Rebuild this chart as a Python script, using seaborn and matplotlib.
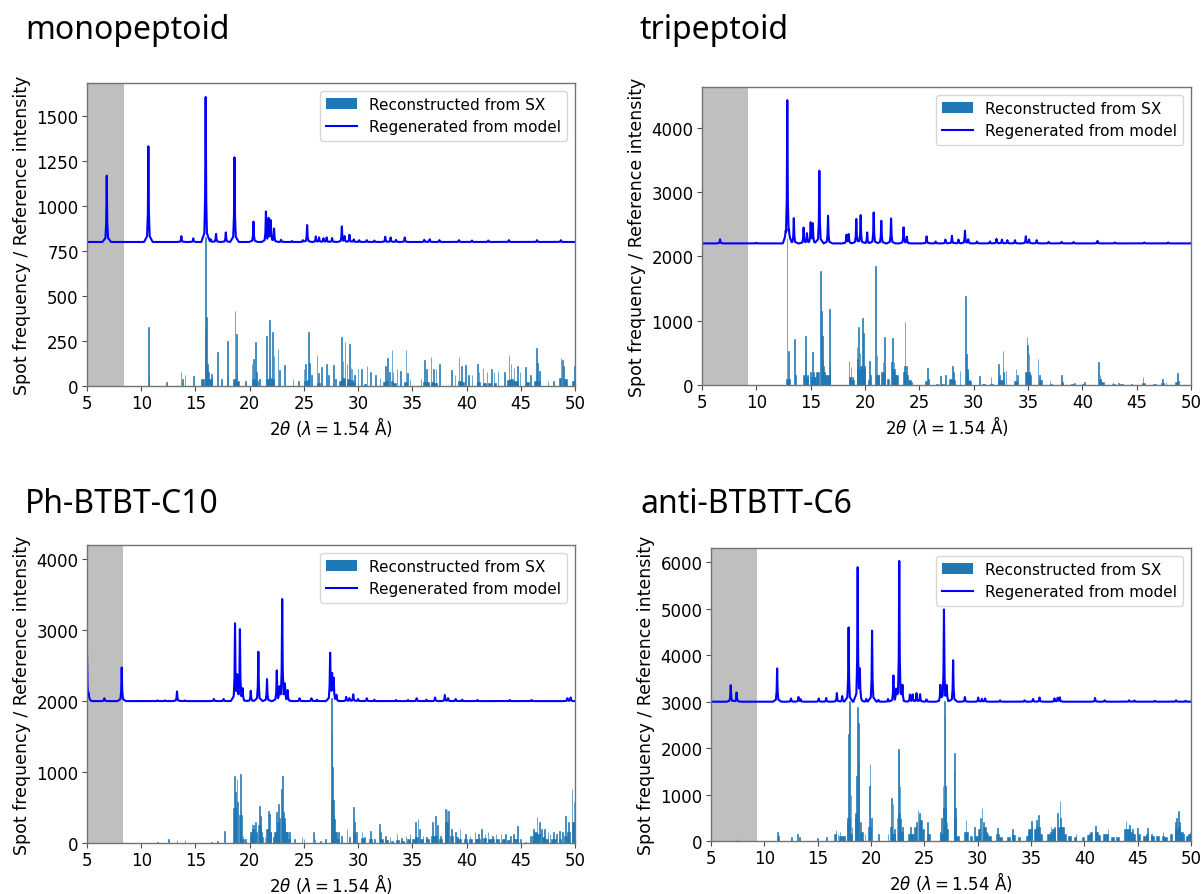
import numpy as np
import matplotlib
matplotlib.use("Agg")
import matplotlib.pyplot as plt
import seaborn as sns
from matplotlib.patches import Patch
from matplotlib.lines import Line2D

# ---------------- data ----------------
TITLES = ["monopeptoid", "tripeptoid", "Ph-BTBT-C10", "anti-BTBTT-C6"]
BASELINES = [800, 2200, 2000, 3000]
EXCLUDED_UPTO = [8.4, 9.2, 8.3, 9.3]
YMAX = [1683, 4630, 4200, 6310]
YTICKS = [[0, 250, 500, 750, 1000, 1250, 1500],
          [0, 1000, 2000, 3000, 4000],
          [0, 1000, 2000, 3000, 4000],
          [0, 1000, 2000, 3000, 4000, 5000, 6000]]
XTICKS = [5, 10, 15, 20, 25, 30, 35, 40, 45, 50]

# model pattern peaks: (2theta, intensity at peak top)
MONO_LINE = [(6.82, 1168), (10.66, 1331), (13.7, 832), (14.8, 820), (15.94, 1605), (16.4, 815),
             (16.9, 845), (17.8, 853), (18.6, 1270), (20.35, 913), (21.5, 965), (21.75, 924),
             (21.95, 915), (22.25, 872), (22.9, 812), (23.9, 805), (24.9, 810), (25.3, 894),
             (26.1, 830), (26.4, 825), (26.8, 820), (27.1, 825), (27.6, 822), (28.5, 885),
             (28.75, 830), (29.2, 840), (29.6, 815), (30.1, 810), (30.8, 810), (31.5, 808),
             (32.5, 829), (33.0, 825), (33.5, 812), (34.3, 825), (36.1, 812), (36.6, 815),
             (37.5, 810), (39.3, 810), (40.5, 808), (42.0, 808), (43.9, 810), (46.5, 810), (48.7, 810)]
TRI_LINE = [(6.66, 2265), (10.0, 2210), (12.7, 2280), (12.85, 4415), (13.0, 2300), (13.45, 2593),
            (14.35, 2443), (14.66, 2350), (15.0, 2515), (15.2, 2500), (15.8, 3329), (16.6, 2630),
            (18.3, 2330), (18.5, 2340), (19.2, 2580), (19.6, 2640), (20.2, 2370), (20.8, 2680),
            (21.5, 2551), (22.4, 2587), (23.55, 2447), (23.85, 2300), (25.67, 2309), (26.5, 2230),
            (27.4, 2260), (28.0, 2318), (28.6, 2260), (29.2, 2396), (29.5, 2260), (30.3, 2230),
            (31.5, 2230), (32.1, 2270), (32.6, 2260), (33.1, 2250), (33.8, 2250), (34.8, 2309),
            (35.1, 2260), (35.8, 2250), (36.9, 2225), (38.1, 2225), (39.2, 2220), (41.4, 2240),
            (43.0, 2215), (45.7, 2215), (47.9, 2215)]
PH_LINE = [(5.0, 2650), (5.15, 2080), (6.6, 2040), (8.2, 2474), (11.5, 2010), (12.2, 2010),
           (13.3, 2136), (14.0, 2010), (16.7, 2030), (17.6, 2030), (18.65, 3084), (18.85, 2300),
           (19.1, 3000), (19.35, 2150), (20.1, 2145), (20.8, 2695), (21.6, 2310), (22.5, 2428),
           (22.75, 2150), (23.0, 3427), (23.25, 2200), (23.5, 2150), (24.6, 2040), (25.7, 2040),
           (26.2, 2020), (27.42, 2662), (27.6, 2350), (27.75, 2300), (28.0, 2080), (28.9, 2060),
           (29.2, 2040), (29.55, 2095), (30.0, 2030), (30.8, 2040), (31.5, 2020), (33.5, 2015),
           (34.6, 2015), (35.4, 2040), (36.3, 2020), (37.1, 2050), (38.0, 2085), (38.3, 2040),
           (39.0, 2030), (39.6, 2020), (41.0, 2015), (44.0, 2015), (46.0, 2015), (49.3, 2040),
           (49.6, 2050)]
ANTI_LINE = [(6.85, 3356), (7.4, 3198), (11.2, 3716), (12.5, 3070), (13.2, 3100), (13.4, 3050),
             (15.1, 3070), (15.8, 3080), (16.8, 3185), (17.3, 3120), (17.9, 4600), (18.75, 5871),
             (18.95, 3594), (19.55, 3060), (20.1, 4530), (20.7, 3040), (21.6, 3060), (22.1, 3560),
             (22.35, 3200), (22.65, 6020), (22.95, 3300), (23.65, 3150), (23.9, 3150), (24.27, 3180),
             (24.6, 3160), (25.2, 3050), (26.5, 3340), (26.84, 4973), (27.1, 3300), (27.7, 3893),
             (28.8, 3100), (30.05, 3090), (30.4, 3060), (30.7, 3070), (32.1, 3030), (34.4, 3030),
             (35.2, 3060), (35.8, 3090), (37.2, 3070), (37.5, 3080), (37.7, 3090), (41.0, 3080),
             (41.9, 3030), (44.2, 3030), (44.7, 3025), (46.6, 3020), (48.6, 3030), (49.5, 3020)]

# spot frequency, sharp bins: (2theta, count)
MONO_SPOTS = [(10.66, 326), (10.74, 60), (12.35, 20), (13.68, 75), (13.78, 40), (14.05, 60), (14.8, 55),
              (15.87, 316), (15.95, 830), (16.03, 381), (16.12, 120), (16.5, 65), (17.03, 187), (17.4, 40),
              (17.9, 252), (18.0, 60), (18.66, 418), (18.75, 289), (18.85, 80), (19.6, 30), (20.2, 122),
              (20.35, 150), (20.5, 243), (20.6, 80), (20.9, 40), (21.55, 275), (21.8, 367), (21.9, 150),
              (22.1, 298), (22.25, 168), (22.6, 205), (22.75, 90), (23.2, 117), (24.0, 39), (24.5, 25),
              (25.0, 94), (25.15, 122), (25.4, 302), (25.5, 130), (25.75, 60), (26.2, 174), (26.35, 70),
              (26.6, 107), (27.1, 122), (27.3, 60), (27.7, 119), (27.9, 40), (28.5, 270), (28.6, 140),
              (28.8, 243), (28.95, 120), (29.2, 233), (29.3, 100), (29.45, 94), (29.7, 60), (30.0, 94),
              (30.3, 94), (30.8, 113), (31.1, 75), (31.6, 60), (32.0, 45), (32.5, 113), (32.7, 155),
              (32.85, 80), (33.1, 202), (33.25, 80), (33.6, 94), (33.9, 85), (34.4, 202), (34.55, 70),
              (34.8, 40), (35.8, 40), (36.1, 144), (36.3, 94), (36.7, 163), (36.95, 94), (37.2, 94),
              (37.5, 122), (38.6, 89), (38.9, 60), (39.3, 163), (39.5, 113), (39.9, 117), (40.2, 60),
              (40.5, 60), (41.0, 122), (41.15, 75), (41.5, 100), (41.85, 75), (42.3, 94), (42.55, 75),
              (42.9, 85), (43.5, 75), (43.9, 174), (44.1, 120), (44.4, 100), (44.7, 113), (44.9, 75),
              (45.4, 104), (45.9, 60), (46.4, 209), (46.55, 130), (46.75, 85), (47.5, 30), (48.0, 30),
              (48.7, 154), (48.8, 145), (48.95, 110), (49.95, 113)]
TRI_SPOTS = [(12.85, 2280), (12.93, 533), (13.05, 100), (13.5, 714), (13.6, 150), (14.48, 766), (14.56, 400),
             (14.7, 150), (15.0, 200), (15.18, 507), (15.27, 200), (15.9, 1775), (15.98, 1154), (16.06, 766),
             (16.14, 400), (16.25, 200), (16.7, 1180), (16.8, 300), (18.5, 378), (18.7, 275), (18.85, 120),
             (19.23, 585), (19.33, 400), (19.45, 895), (19.55, 500), (19.76, 1040), (19.85, 802), (19.95, 300),
             (20.4, 378), (20.5, 150), (20.98, 1853), (21.08, 466), (21.2, 150), (21.65, 350), (21.75, 740),
             (21.85, 300), (22.45, 350), (22.55, 725), (22.65, 350), (22.8, 150), (23.6, 300), (23.7, 983),
             (23.8, 300), (23.95, 150), (24.3, 50), (25.74, 259), (25.84, 100), (26.9, 145), (27.4, 160),
             (28.04, 290), (28.15, 200), (28.74, 223), (29.26, 1377), (29.34, 481), (29.45, 250), (29.6, 80),
             (30.5, 135), (31.6, 130), (32.27, 326), (32.37, 150), (32.67, 533), (32.77, 200), (33.0, 223),
             (33.9, 248), (34.0, 150), (34.88, 740), (34.96, 621), (35.06, 480), (35.16, 200), (35.95, 404),
             (36.05, 150), (37.0, 67), (38.1, 155), (38.2, 60), (39.3, 30), (40.2, 40), (41.5, 352),
             (41.6, 150), (41.7, 80), (42.85, 50), (43.3, 30), (44.5, 20), (45.6, 130), (47.4, 93),
             (47.7, 50), (48.74, 181), (48.84, 60)]
PH_SPOTS = [(8.3, 15), (11.5, 15), (12.5, 56), (13.3, 40), (14.0, 40), (16.5, 20), (17.0, 25), (17.68, 174),
            (18.6, 948), (18.68, 713), (18.8, 900), (18.9, 573), (19.1, 972), (19.2, 450), (19.35, 100),
            (19.6, 60), (20.0, 100), (20.2, 267), (20.3, 250), (20.5, 291), (20.6, 150), (20.9, 526),
            (21.0, 385), (21.1, 150), (21.4, 80), (21.7, 455), (21.83, 408), (21.95, 150), (22.2, 80),
            (22.4, 150), (22.5, 432), (22.66, 549), (22.75, 350), (22.9, 760), (23.0, 948), (23.1, 432),
            (23.2, 250), (23.4, 150), (23.7, 150), (24.1, 50), (24.8, 80), (25.0, 60), (25.9, 150),
            (26.0, 60), (26.5, 30), (27.0, 60), (27.5, 2050), (27.58, 1559), (27.66, 1066), (27.75, 400),
            (27.85, 338), (28.0, 150), (28.2, 150), (28.5, 100), (28.97, 197), (29.2, 80), (29.58, 502),
            (29.7, 300), (29.85, 150), (30.35, 160), (30.6, 80), (31.1, 174), (31.5, 60), (31.95, 267),
            (32.1, 150), (32.5, 100), (32.9, 80), (33.6, 130), (34.0, 70), (34.4, 100), (34.8, 120),
            (35.28, 291), (35.5, 338), (35.7, 200), (36.0, 100), (36.3, 80), (36.8, 291), (37.1, 385),
            (37.3, 250), (37.6, 100), (38.05, 479), (38.2, 470), (38.35, 455), (38.6, 200), (39.0, 160),
            (39.4, 200), (39.9, 130), (40.3, 100), (40.8, 150), (41.1, 120), (41.4, 200), (41.7, 120),
            (42.0, 150), (42.4, 100), (42.7, 130), (43.2, 120), (43.6, 130), (44.0, 100), (44.3, 120),
            (44.7, 244), (45.0, 60), (45.4, 20), (45.9, 100), (46.2, 200), (46.5, 361), (46.7, 300),
            (46.9, 200), (47.2, 200), (47.5, 150), (47.7, 120), (48.0, 150), (48.3, 120), (48.6, 170),
            (48.8, 150), (49.1, 375), (49.4, 300), (49.7, 760), (49.9, 573)]
ANTI_SPOTS = [(7.4, 50), (11.2, 200), (11.3, 100), (12.5, 80), (13.15, 144), (13.3, 80), (15.0, 60), (15.8, 80),
              (16.75, 237), (16.9, 150), (17.1, 200), (17.5, 100), (17.75, 400), (17.85, 2300), (17.93, 2838),
              (18.01, 3017), (18.1, 1000), (18.2, 300), (18.55, 500), (18.65, 1400), (18.73, 2895),
              (18.81, 2550), (18.9, 1652), (19.0, 400), (19.4, 150), (19.85, 1185), (19.93, 1652),
              (20.02, 500), (20.7, 150), (21.6, 150), (21.97, 934), (22.05, 800), (22.2, 250), (22.45, 500),
              (22.55, 1975), (22.63, 1868), (22.71, 1185), (22.8, 467), (22.95, 300), (23.7, 300),
              (23.8, 150), (24.3, 400), (24.4, 668), (24.5, 600), (24.65, 300), (25.3, 400), (25.4, 150),
              (26.5, 200), (26.65, 500), (26.75, 1185), (26.84, 3017), (26.92, 2694), (27.0, 1185),
              (27.1, 400), (27.75, 1500), (27.84, 1904), (27.92, 700), (28.93, 453), (29.05, 200),
              (29.7, 300), (30.3, 500), (30.4, 718), (30.5, 400), (30.8, 200), (31.84, 280), (33.3, 250),
              (34.7, 200), (35.0, 431), (35.1, 350), (35.5, 450), (35.66, 553), (35.8, 300), (36.9, 300),
              (37.2, 300), (37.5, 600), (37.7, 862), (37.8, 500), (38.0, 300), (39.25, 150), (40.5, 150),
              (41.0, 330), (41.1, 200), (42.2, 250), (43.9, 431), (44.2, 350), (44.5, 250), (45.0, 280),
              (45.97, 280), (46.3, 150), (47.4, 200), (48.5, 400), (48.65, 500), (48.8, 647), (48.95, 400),
              (49.3, 150), (49.9, 200)]

# spot frequency, low dense background under the clusters: (2theta, count)
MONO_BODY = [(15.7, 40), (16.0, 80), (16.3, 40), (18.6, 40), (18.9, 25), (20.3, 40), (20.6, 25), (21.6, 40),
             (21.9, 45), (22.2, 40), (25.1, 30), (25.4, 35), (26.3, 15), (28.4, 30), (28.7, 45), (29.0, 40),
             (29.3, 35), (29.6, 20), (30.5, 12), (32.4, 20), (32.7, 25), (33.0, 25), (33.3, 15), (34.3, 20),
             (36.0, 20), (36.4, 20), (36.8, 20), (37.2, 15), (39.3, 25), (39.7, 20), (41.0, 20), (41.5, 15),
             (42.0, 15), (42.5, 15), (43.8, 35), (44.1, 40), (44.4, 30), (44.7, 25), (45.5, 20), (46.3, 30),
             (46.6, 25), (48.7, 45), (49.0, 40), (49.9, 30)]
TRI_BODY = [(12.9, 100), (14.4, 150), (14.7, 120), (15.0, 130), (15.3, 120), (15.7, 200), (16.0, 300),
            (16.3, 150), (16.7, 150), (18.5, 120), (18.8, 80), (19.3, 250), (19.6, 300), (19.9, 250),
            (20.4, 80), (21.0, 150), (21.7, 200), (22.0, 100), (22.5, 250), (22.8, 150), (23.7, 200),
            (24.0, 80), (25.7, 60), (26.5, 20), (27.0, 20), (27.9, 100), (28.2, 70), (29.3, 200), (29.6, 60),
            (30.9, 20), (31.5, 20), (32.3, 80), (32.7, 80), (33.9, 60), (34.9, 200), (35.2, 150), (36.0, 80),
            (37.0, 20), (38.1, 30), (39.0, 15), (40.0, 15), (41.5, 100), (41.8, 40), (42.8, 20), (43.6, 15),
            (45.6, 30), (46.5, 15), (47.4, 30), (48.7, 50)]
PH_BODY = [(18.7, 500), (19.0, 400), (19.3, 60), (20.1, 150), (20.4, 200), (20.8, 250), (21.1, 80), (21.6, 200),
           (21.9, 150), (22.4, 150), (22.7, 300), (23.0, 350), (23.3, 150), (23.6, 60), (27.5, 600),
           (27.8, 150), (28.2, 50), (29.6, 150), (30.3, 70), (31.0, 50), (32.0, 60), (32.5, 40), (33.0, 30),
           (33.5, 40), (34.0, 30), (34.5, 50), (35.0, 60), (35.4, 80), (35.8, 60), (36.3, 60), (36.8, 100),
           (37.2, 100), (37.6, 60), (38.1, 300), (38.5, 100), (39.0, 80), (39.4, 60), (39.8, 50), (40.3, 50),
           (40.8, 60), (41.2, 60), (41.6, 70), (42.0, 60), (42.4, 50), (42.8, 50), (43.3, 50), (43.8, 40),
           (44.3, 50), (44.7, 60), (46.0, 100), (46.4, 150), (46.7, 130), (47.0, 80), (47.4, 60), (47.8, 60),
           (48.2, 50), (48.6, 60), (49.0, 100), (49.4, 150), (49.75, 300)]
ANTI_BODY = [(16.7, 150), (17.0, 100), (17.3, 100), (17.9, 500), (18.2, 150), (18.7, 600), (19.0, 200),
             (19.9, 300), (21.9, 300), (22.2, 150), (22.6, 600), (22.9, 200), (23.5, 150), (23.8, 150),
             (24.2, 300), (24.5, 450), (24.8, 250), (25.3, 150), (26.5, 150), (26.85, 700), (27.15, 250),
             (27.8, 500), (28.1, 100), (28.9, 200), (29.3, 100), (29.8, 100), (30.2, 250), (30.5, 300),
             (30.8, 150), (31.1, 100), (31.8, 150), (32.2, 80), (32.8, 80), (33.3, 120), (33.8, 80),
             (34.5, 100), (34.9, 250), (35.3, 250), (35.6, 300), (35.9, 150), (36.6, 150), (36.9, 200),
             (37.2, 250), (37.5, 300), (37.8, 300), (38.1, 150), (38.5, 100), (39.2, 80), (39.8, 80),
             (40.4, 120), (40.7, 200), (41.0, 200), (41.3, 120), (41.8, 150), (42.2, 150), (42.6, 80),
             (43.2, 80), (43.8, 250), (44.1, 250), (44.4, 200), (44.7, 150), (45.0, 150), (45.5, 100),
             (45.9, 150), (46.3, 100), (46.8, 100), (47.3, 100), (47.7, 80), (48.2, 150), (48.5, 250),
             (48.8, 300), (49.1, 200), (49.5, 100), (49.85, 150)]

LINES = [MONO_LINE, TRI_LINE, PH_LINE, ANTI_LINE]
SPOTS = [MONO_SPOTS, TRI_SPOTS, PH_SPOTS, ANTI_SPOTS]
BODIES = [MONO_BODY, TRI_BODY, PH_BODY, ANTI_BODY]

# ---------------- style / layout ----------------
W, H = 1201, 895
AX_PX = [(87, 84, 575, 387), (702, 88, 1191, 386), (87, 546, 575, 844), (711, 549, 1191, 842)]
TITLE_PX = [(25, 39), (640, 39), (25, 513), (640, 513)]
PROFILE_DX = np.array([-0.4, -0.12, -0.05, 0.0, 0.05, 0.12, 0.4])
PROFILE_F = np.array([0.0, 0.06, 0.3, 1.0, 0.3, 0.06, 0.0])
BAR_COLOR = "#1f77b4"


def model_curve(peaks, base):
    pos = np.array([p for p, _ in peaks])
    amp = np.array([v for _, v in peaks]) - base
    xs = np.unique(np.concatenate([[4.0, 51.0], (pos[:, None] + PROFILE_DX[None, :]).ravel()]))
    ys = np.full_like(xs, float(base))
    for p, a in zip(pos, amp):
        ys += np.interp(xs, p + PROFILE_DX, a * PROFILE_F, left=0.0, right=0.0)
    return xs, ys


fig = plt.figure(figsize=(W / 100, H / 100), dpi=100)
plt.rcParams["font.family"] = ["DejaVu Sans"]

for i in range(4):
    l, t, r, b = AX_PX[i]
    ax = fig.add_axes([l / W, 1 - b / H, (r - l) / W, (b - t) / H])
    ax.axvspan(5, EXCLUDED_UPTO[i], color="gray", alpha=0.5, lw=0, zorder=0)

    body = BODIES[i]
    sns.histplot(x=[p for p, _ in body], weights=[c for _, c in body], binwidth=0.25, binrange=(5, 50),
                 color=BAR_COLOR, alpha=1, linewidth=0.4, edgecolor=BAR_COLOR, ax=ax, zorder=2)
    spots = SPOTS[i]
    sns.histplot(x=[p for p, _ in spots], weights=[c for _, c in spots], binwidth=0.06, binrange=(5, 50),
                 color=BAR_COLOR, alpha=1, linewidth=0.45, edgecolor=BAR_COLOR, ax=ax, zorder=2)

    xs, ys = model_curve(LINES[i], BASELINES[i])
    sns.lineplot(x=xs, y=ys, color="blue", linewidth=1.5, estimator=None, sort=False, ax=ax, zorder=3)

    ax.set_xlim(5, 50)
    ax.set_ylim(0, YMAX[i])
    ax.set_xticks(XTICKS)
    ax.set_yticks(YTICKS[i])
    ax.tick_params(labelsize=12, color="0.3", length=3.5, pad=2.5)
    for s in ax.spines.values():
        s.set_color("0.45")
        s.set_linewidth(1.0)
        s.set_zorder(4)
    ax.set_xlabel(r"$2\theta$ ($\lambda = 1.54$ Å)", fontsize=12, labelpad=1)
    ax.set_ylabel("Spot frequency / Reference intensity", fontsize=12.5)

    handles = [Patch(facecolor=BAR_COLOR, edgecolor="none", label="Reconstructed from SX"),
               Line2D([], [], color="blue", lw=1.5, label="Regenerated from model")]
    ax.legend(handles=handles, loc="upper right", fontsize=11)

    tx, ty = TITLE_PX[i]
    fig.text(tx / W, 1 - ty / H, TITLES[i], fontsize=23, family=["Noto Sans", "DejaVu Sans"],
             ha="left", va="baseline")

fig.savefig("out.png", dpi=100)
